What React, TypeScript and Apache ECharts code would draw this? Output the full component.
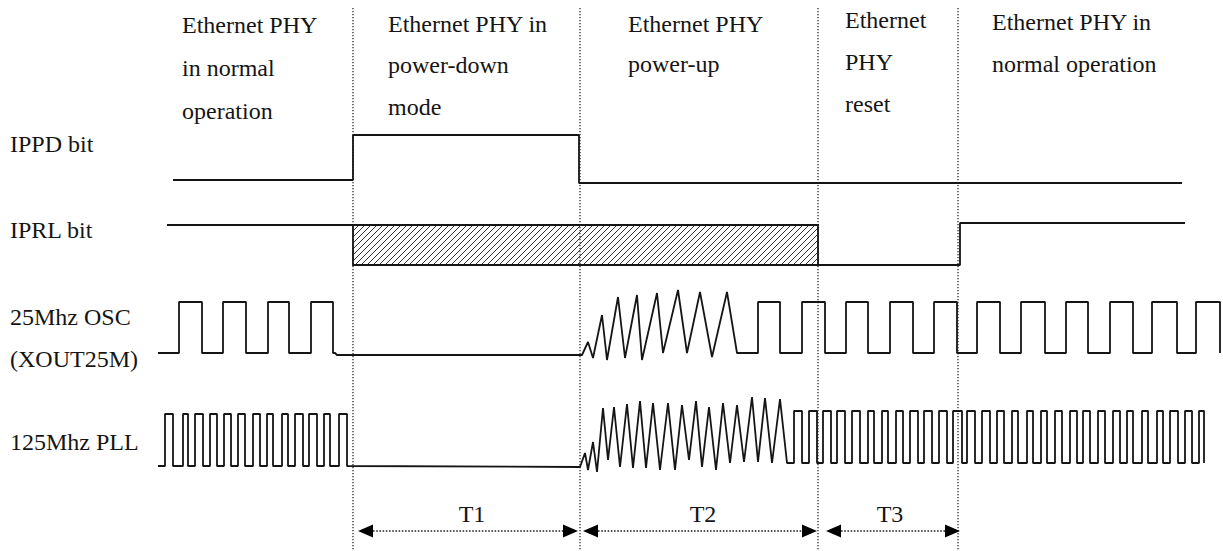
import React, { useEffect, useRef } from 'react';
import * as echarts from 'echarts';

// ---------- data ----------
const SIGNAL_LABELS = ['IPPD bit', 'IPRL bit', '25Mhz OSC', '(XOUT25M)', '125Mhz PLL'];
const PHASE_LABELS = [
  ['Ethernet PHY', 'in normal', 'operation'],
  ['Ethernet PHY in', 'power-down', 'mode'],
  ['Ethernet PHY', 'power-up'],
  ['Ethernet', 'PHY', 'reset'],
  ['Ethernet PHY in', 'normal operation'],
];
const INTERVAL_LABELS = ['T1', 'T2', 'T3'];

// time positions of the phase boundaries (dotted lines)
const PHASE_BOUNDARIES = [353, 580, 818, 958];
// T1..T3 spans [from, to]
const INTERVAL_SPANS = [
  [358, 578],
  [583, 817],
  [826, 960],
];

// IPPD bit
const IPPD = [[173, 180], [353, 180], [353, 135], [579, 135], [579, 183], [1182, 183]];
// IPRL bit
const IPRL_BEFORE = [[167, 225], [353, 225]];
const IPRL_UNDEFINED = [353, 818, 225, 265]; // t0, t1, high, low
const IPRL_AFTER = [[818, 265], [960, 265], [960, 223], [1185, 223]];

// 25 MHz OSC
const OSC_LEVELS = [353, 302]; // low, high
const OSC_START = 158;
const OSC_EDGES_BEFORE = [179, 202, 223, 246, 268, 289, 311, 333];
const OSC_IDLE = [[337, 355], [582, 355]];
const OSC_RAMP = [
  [588, 342], [593, 358], [602, 315], [607, 360], [618, 297], [625, 358], [637, 295], [642, 360],
  [657, 293], [663, 353], [678, 290], [687, 353], [700, 292], [712, 357], [727, 292], [737, 353],
];
const OSC_EDGES_AFTER = [
  758, 780, 802, 825, 846, 868, 890, 913, 934, 957, 977, 1000, 1021, 1045, 1066, 1088, 1110, 1133,
  1152, 1177, 1196, 1220,
];
const OSC_END = 1220;

// 125 MHz PLL
const PLL_LEVELS_BEFORE = [466, 414];
const PLL_START = 158;
const PLL_EDGES_BEFORE = [
  165, 173, 183, 188, 195, 203, 210, 217, 224, 231, 238, 245, 253, 260, 267, 273, 282, 288, 295, 303,
  309, 317, 324, 330, 339, 347,
];
const PLL_IDLE = [[580, 467]];
const PLL_RAMP = [
  [585, 453], [588, 470], [593, 442], [597, 472], [603, 408], [608, 460], [614, 407], [620, 467],
  [627, 404], [633, 468], [640, 401], [646, 468], [653, 403], [660, 470], [668, 403], [675, 470],
  [682, 405], [689, 460], [696, 401], [702, 467], [709, 407], [716, 470], [723, 403], [730, 463],
  [737, 405], [744, 462], [752, 397], [758, 462], [765, 398], [772, 463], [780, 399], [787, 463],
];
const PLL_LEVELS_AFTER = [463, 411];
const PLL_EDGES_AFTER = [
  794, 802, 809, 817, 823, 831, 837, 845, 852, 860, 868, 874, 882, 888, 896, 903, 910, 918, 924, 932,
  939, 947, 953, 962, 967, 975, 982, 990, 997, 1004, 1012, 1018, 1027, 1033, 1041, 1047, 1055, 1062,
  1070, 1077, 1083, 1090, 1098, 1105, 1113, 1120, 1127, 1133, 1142, 1148, 1157, 1163, 1170, 1178,
  1185, 1192, 1199, 1204,
];
const PLL_END = 1204;

// ---------- layout (pixels) ----------
const W = 1223;
const H = 551;
const FONT = '24px "Liberation Serif", "Times New Roman", serif';
const INK = '#151515';
const SIGNAL_LABEL_X = 10;
const SIGNAL_LABEL_Y = [144, 230, 317, 359, 442];
const PHASE_LABEL_X = [182, 388, 628, 845, 992];
const PHASE_LABEL_Y = [
  [25, 68, 111],
  [24, 65, 107],
  [24, 64],
  [20, 62, 104],
  [22, 64],
];
const INTERVAL_LABEL_X = [472, 703, 890];
const INTERVAL_LABEL_Y = 514;
const ARROW_Y = 531;
const BOUNDARY_TOP = 8;

function stepWave(start: number, edges: number[], end: number, lo: number, hi: number) {
  const pts: number[][] = [[start, lo]];
  let level = lo;
  for (const e of edges) {
    pts.push([e, level]);
    level = level === lo ? hi : lo;
    pts.push([e, level]);
  }
  pts.push([end, level]);
  return pts;
}

export default function App() {
  const ref = useRef<HTMLDivElement>(null);

  useEffect(() => {
    if (!ref.current) return;
    const chart = echarts.init(ref.current, undefined, { renderer: 'svg' });

    const oscData = [
      ...stepWave(OSC_START, OSC_EDGES_BEFORE, OSC_EDGES_BEFORE[OSC_EDGES_BEFORE.length - 1] + 2, OSC_LEVELS[0], OSC_LEVELS[1]),
      ...OSC_IDLE,
      ...OSC_RAMP,
      ...stepWave(OSC_RAMP[OSC_RAMP.length - 1][0], OSC_EDGES_AFTER, OSC_END, OSC_LEVELS[0], OSC_LEVELS[1]),
    ];
    const pllData = [
      ...stepWave(PLL_START, PLL_EDGES_BEFORE, PLL_EDGES_BEFORE[PLL_EDGES_BEFORE.length - 1], PLL_LEVELS_BEFORE[0], PLL_LEVELS_BEFORE[1]),
      ...PLL_IDLE,
      ...PLL_RAMP,
      ...stepWave(PLL_RAMP[PLL_RAMP.length - 1][0], PLL_EDGES_AFTER, PLL_END, PLL_LEVELS_AFTER[0], PLL_LEVELS_AFTER[1]),
    ];

    const wave = (name: string, data: number[][]) => ({
      name,
      type: 'line',
      data,
      showSymbol: false,
      symbol: 'none',
      silent: true,
      lineStyle: { color: INK, width: 1.8 },
      z: 3,
    });

    const boundarySeries = PHASE_BOUNDARIES.map((x, i) => ({
      name: 'boundary' + i,
      type: 'line',
      data: [[x, BOUNDARY_TOP], [x, H]],
      showSymbol: false,
      symbol: 'none',
      silent: true,
      lineStyle: { color: '#2a2a2a', width: 1.3, type: [1.3, 1.7] },
      z: 2,
    }));

    const graphic: any[] = [];
    SIGNAL_LABELS.forEach((t, i) => {
      graphic.push({
        type: 'text',
        x: SIGNAL_LABEL_X,
        y: SIGNAL_LABEL_Y[i],
        style: { text: t, font: FONT, fill: INK, align: 'left', verticalAlign: 'middle' },
      });
    });
    PHASE_LABELS.forEach((lines, i) => {
      lines.forEach((t, j) => {
        graphic.push({
          type: 'text',
          x: PHASE_LABEL_X[i],
          y: PHASE_LABEL_Y[i][j],
          style: { text: t, font: FONT, fill: INK, align: 'left', verticalAlign: 'middle' },
        });
      });
    });
    INTERVAL_LABELS.forEach((t, i) => {
      graphic.push({
        type: 'text',
        x: INTERVAL_LABEL_X[i],
        y: INTERVAL_LABEL_Y,
        style: { text: t, font: FONT, fill: INK, align: 'center', verticalAlign: 'middle' },
      });
    });

    const option: any = {
      animation: false,
      backgroundColor: '#ffffff',
      grid: { left: 0, right: 0, top: 0, bottom: 0, containLabel: false },
      xAxis: { type: 'value', min: 0, max: W, show: false },
      yAxis: { type: 'value', min: 0, max: H, inverse: true, show: false },
      graphic,
      series: [
        ...boundarySeries,
        wave('IPPD bit', IPPD),
        wave('IPRL bit (before)', IPRL_BEFORE),
        wave('IPRL bit (after)', IPRL_AFTER),
        {
          name: 'IPRL undefined',
          type: 'custom',
          silent: true,
          z: 3,
          data: [IPRL_UNDEFINED],
          encode: { x: [0, 1], y: [2, 3] },
          renderItem: (_p: any, api: any) => {
            const a = api.coord([api.value(0), api.value(2)]);
            const b = api.coord([api.value(1), api.value(3)]);
            const x0 = Math.min(a[0], b[0]);
            const x1 = Math.max(a[0], b[0]);
            const y0 = Math.min(a[1], b[1]);
            const y1 = Math.max(a[1], b[1]);
            const children: any[] = [];
            const step = 6;
            for (let c = x0 + y0 + step; c < x1 + y1; c += step) {
              const ya = Math.max(y0, c - x1);
              const yb = Math.min(y1, c - x0);
              if (yb <= ya) continue;
              children.push({
                type: 'line',
                shape: { x1: c - ya, y1: ya, x2: c - yb, y2: yb },
                style: { stroke: '#333', lineWidth: 1 },
              });
            }
            children.push({
              type: 'rect',
              shape: { x: x0, y: y0, width: x1 - x0, height: y1 - y0 },
              style: { fill: 'none', stroke: INK, lineWidth: 1.8 },
            });
            return { type: 'group', children };
          },
        },
        wave('25Mhz OSC', oscData),
        wave('125Mhz PLL', pllData),
        {
          name: 'intervals',
          type: 'custom',
          silent: true,
          z: 3,
          data: INTERVAL_SPANS.map((s) => [s[0], s[1], ARROW_Y]),
          encode: { x: [0, 1], y: 2 },
          renderItem: (_p: any, api: any) => {
            const a = api.coord([api.value(0), api.value(2)]);
            const b = api.coord([api.value(1), api.value(2)]);
            const L = 15;
            const HH = 6.5;
            const y = a[1];
            return {
              type: 'group',
              children: [
                {
                  type: 'line',
                  shape: { x1: a[0] + L, y1: y, x2: b[0] - L, y2: y },
                  style: { stroke: '#222', lineWidth: 1.6, lineDash: [1.6, 1.6] },
                },
                {
                  type: 'polygon',
                  shape: { points: [[a[0], y], [a[0] + L, y - HH], [a[0] + L, y + HH]] },
                  style: { fill: '#000' },
                },
                {
                  type: 'polygon',
                  shape: { points: [[b[0], y], [b[0] - L, y - HH], [b[0] - L, y + HH]] },
                  style: { fill: '#000' },
                },
              ],
            };
          },
        },
      ],
    };

    chart.setOption(option);
    return () => chart.dispose();
  }, []);

  return (
    <div
      ref={ref}
      style={{ position: 'fixed', left: 0, top: 0, width: W, height: H, background: '#fff' }}
    />
  );
}
